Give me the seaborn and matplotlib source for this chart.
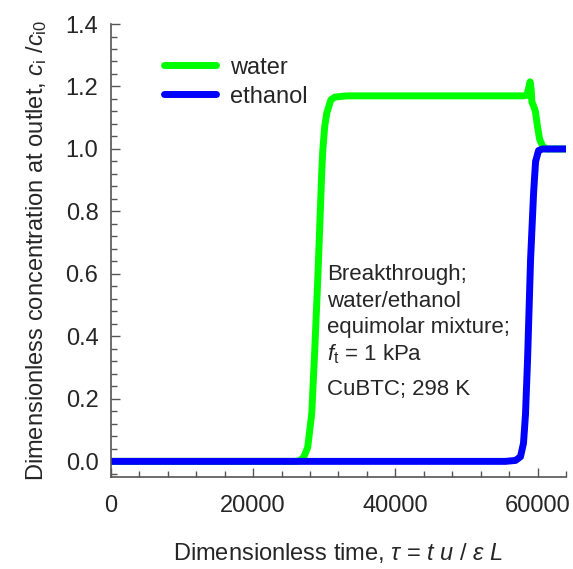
import numpy as np
import pandas as pd
import matplotlib
matplotlib.use("Agg")
import matplotlib.pyplot as plt
from matplotlib.ticker import MultipleLocator
import seaborn as sns

# Outlet concentration profiles (dimensionless time vs c_i/c_i0)
water_tau = [0, 20000, 26000, 26540, 27100, 27670, 28240, 28660, 29080, 29500,
             29650, 29790, 30050, 30350, 30920, 31480, 33180, 40000, 50000,
             58000, 58500, 58800, 58950, 59100, 59200, 59400, 59700, 60000,
             60300, 60700, 61200, 64000]
water_c = [0.0, 0.0, 0.0, 0.002, 0.013, 0.045, 0.154, 0.356, 0.58, 0.836,
           0.93, 0.995, 1.07, 1.115, 1.157, 1.166, 1.17, 1.17, 1.17,
           1.17, 1.172, 1.20, 1.215, 1.19, 1.15, 1.14, 1.12, 1.07,
           1.03, 1.01, 1.0, 1.0]

ethanol_tau = [0, 20000, 40000, 55480, 56900, 57600, 58020, 58300, 58590,
               59010, 59440, 59720, 60140, 60700, 64000]
ethanol_c = [0.0, 0.0, 0.0, 0.0, 0.003, 0.015, 0.058, 0.15, 0.324,
             0.644, 0.859, 0.96, 0.995, 1.0, 1.0]

x_ticks = [0, 20000, 40000, 60000]
y_ticks = [0.0, 0.2, 0.4, 0.6, 0.8, 1.0, 1.2, 1.4]

sns.set_style("ticks")
plt.rcParams["font.family"] = ["Liberation Sans", "DejaVu Sans"]
plt.rcParams["mathtext.fontset"] = "custom"
plt.rcParams["mathtext.rm"] = "Liberation Sans"
plt.rcParams["mathtext.it"] = "Liberation Sans:italic"
plt.rcParams["mathtext.bf"] = "Liberation Sans:bold"

FS = 17

fig = plt.figure(figsize=(5.73, 5.69), dpi=100)
ax = fig.add_axes([0.1937, 0.1617, 0.7941, 0.7961])

water = pd.DataFrame({"tau": water_tau, "c": water_c})
ethanol = pd.DataFrame({"tau": ethanol_tau, "c": ethanol_c})

sns.lineplot(data=water, x="tau", y="c", ax=ax, color="#00ff00", lw=5,
             label="water", solid_capstyle="round", sort=False)
sns.lineplot(data=ethanol, x="tau", y="c", ax=ax, color="#0000ff", lw=5,
             label="ethanol", solid_capstyle="round", sort=False)

ax.set_xlim(0, 64000)
ax.set_ylim(-0.05, 1.4)
ax.set_xticks(x_ticks)
ax.set_yticks(y_ticks)
ax.set_xticklabels([str(v) for v in x_ticks])
ax.set_yticklabels([f"{v:.1f}" for v in y_ticks])
ax.xaxis.set_minor_locator(MultipleLocator(4000))
ax.yaxis.set_minor_locator(MultipleLocator(0.04))

for s in ("top", "right"):
    ax.spines[s].set_visible(False)
for s in ("left", "bottom"):
    ax.spines[s].set_color("#555555")
    ax.spines[s].set_linewidth(1.2)

ax.tick_params(which="major", direction="in", length=6.5, width=1.0,
               color="#555555", labelsize=FS)
ax.tick_params(axis="x", which="major", pad=13)
ax.tick_params(axis="y", which="major", pad=9)
ax.tick_params(which="minor", direction="in", length=4.5, width=1.0,
               color="#555555")

ax.set_xlabel(r"Dimensionless time, $\tau$ = $t$ $u$ / $\varepsilon$ $L$",
              fontsize=FS, labelpad=17)
ax.set_ylabel(r"Dimensionless concentration at outlet, $c_{\mathrm{i}}$ /$c_{\mathrm{i0}}$",
              fontsize=FS, labelpad=12)

leg = ax.legend(loc="upper left", bbox_to_anchor=(0.07, 0.975), frameon=False,
                fontsize=FS, handlelength=2.2, handletextpad=0.6,
                labelspacing=0.3)

notes = ["Breakthrough;", "water/ethanol", "equimolar mixture;",
         r"$f_{\mathrm{t}}$ = 1 kPa", "CuBTC; 298 K"]
note_y = [0.435, 0.375, 0.318, 0.258, 0.181]
for t, yy in zip(notes, note_y):
    ax.text(0.475, yy, t, transform=ax.transAxes, fontsize=16,
            va="baseline", ha="left")

fig.savefig("out.png", dpi=100)
